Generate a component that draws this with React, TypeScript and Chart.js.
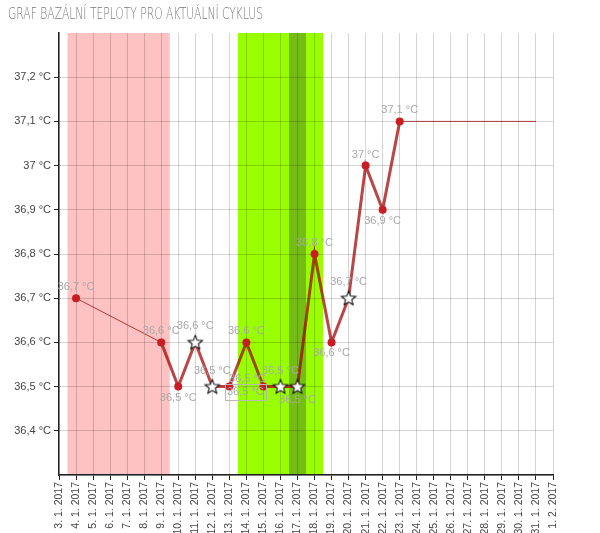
import React, { useEffect, useRef } from 'react';
import { Chart, registerables } from 'chart.js';

Chart.register(...registerables);

const chartTitle = 'GRAF BAZÁLNÍ TEPLOTY PRO AKTUÁLNÍ CYKLUS';

const dayLabels = [
  '3. 1. 2017', '4. 1. 2017', '5. 1. 2017', '6. 1. 2017', '7. 1. 2017', '8. 1. 2017',
  '9. 1. 2017', '10. 1. 2017', '11. 1. 2017', '12. 1. 2017', '13. 1. 2017', '14. 1. 2017',
  '15. 1. 2017', '16. 1. 2017', '17. 1. 2017', '18. 1. 2017', '19. 1. 2017', '20. 1. 2017',
  '21. 1. 2017', '22. 1. 2017', '23. 1. 2017', '24. 1. 2017', '25. 1. 2017', '26. 1. 2017',
  '27. 1. 2017', '28. 1. 2017', '29. 1. 2017', '30. 1. 2017', '31. 1. 2017', '1. 2. 2017',
];

const measuredDays = [
  '4. 1. 2017', '9. 1. 2017', '10. 1. 2017', '11. 1. 2017', '12. 1. 2017', '13. 1. 2017',
  '14. 1. 2017', '15. 1. 2017', '16. 1. 2017', '17. 1. 2017', '18. 1. 2017', '19. 1. 2017',
  '20. 1. 2017', '21. 1. 2017', '22. 1. 2017', '23. 1. 2017',
];
const measuredTemps = [36.7, 36.6, 36.5, 36.6, 36.5, 36.5, 36.6, 36.5, 36.5, 36.5, 36.8, 36.6, 36.7, 37.0, 36.9, 37.1];
const markerKinds = ['dot', 'dot', 'dot', 'star', 'star', 'dot', 'dot', 'dot', 'star', 'star', 'dot', 'dot', 'star', 'dot', 'dot', 'dot'];

const forecastDays = ['23. 1. 2017', '31. 1. 2017'];
const forecastTemps = [37.1, 37.1];

const menstruationDays = ['4. 1. 2017', '9. 1. 2017'];
const fertileDays = ['14. 1. 2017', '18. 1. 2017'];
const ovulationDays = ['17. 1. 2017', '17. 1. 2017'];

const yMin = 36.3;
const yMax = 37.3;
const yStep = 0.1;

// label placement (style): side, horizontal shift, vertical shift, boxed
const labelStyle: [string, number, number, boolean][] = [
  ['up', 0, 0, false], ['up', 0, 0, false], ['down', 0, 0, false], ['up', 0, -4, false],
  ['up', 0, -4, false], ['down', 16, -6, true], ['up', 0, 0, false], ['up', -16, 3, false],
  ['up', 0, -4, false], ['down', 0, 1, false], ['up', 0, 0, false], ['down', 0, 0, false],
  ['up', 0, -4, false], ['up', 0, 0, false], ['down', 0, 0, false], ['up', 0, 0, false],
];

const fmtTemp = (v: number) => String(Number(v.toFixed(1))).replace('.', ',') + ' °C';

function makeStar(): HTMLCanvasElement {
  const c = document.createElement('canvas');
  c.width = 18;
  c.height = 18;
  const g = c.getContext('2d')!;
  const cx = 9, cy = 9.5, ro = 7.5, ri = 3.3;
  g.beginPath();
  for (let i = 0; i < 10; i++) {
    const r = i % 2 === 0 ? ro : ri;
    const a = -Math.PI / 2 + (i * Math.PI) / 5;
    const px = cx + r * Math.cos(a);
    const py = cy + r * Math.sin(a);
    if (i === 0) g.moveTo(px, py); else g.lineTo(px, py);
  }
  g.closePath();
  g.fillStyle = '#ffffff';
  g.fill();
  g.lineWidth = 1.1;
  g.strokeStyle = '#111111';
  g.stroke();
  return c;
}

const bandsPlugin = {
  id: 'bands',
  beforeDraw(chart: any) {
    const { ctx, chartArea } = chart;
    const x = chart.scales.x;
    const half = (x.getPixelForValue(1) - x.getPixelForValue(0)) / 2;
    const band = (range: string[], color: string) => {
      const i0 = dayLabels.indexOf(range[0]);
      const i1 = dayLabels.indexOf(range[1]);
      const x0 = x.getPixelForValue(i0) - half;
      const x1 = x.getPixelForValue(i1) + half;
      ctx.save();
      ctx.fillStyle = color;
      ctx.fillRect(x0, chartArea.top, x1 - x0, chartArea.bottom - chartArea.top);
      ctx.restore();
    };
    band(menstruationDays, 'rgb(255,194,194)');
    band(fertileDays, 'rgb(153,255,0)');
    band(ovulationDays, 'rgb(118,188,22)');

    // title
    ctx.save();
    ctx.font = '200 15px "DejaVu Sans", "Liberation Sans Narrow", sans-serif';
    ctx.fillStyle = 'rgb(120,120,120)';
    ctx.textBaseline = 'alphabetic';
    const w = ctx.measureText(chartTitle).width;
    const target = 255;
    ctx.translate(8, 18.5);
    ctx.scale(target / w, 1);
    ctx.fillText(chartTitle, 0, 0);
    ctx.restore();
  },
};

const labelsPlugin = {
  id: 'pointLabels',
  afterDatasetsDraw(chart: any) {
    const { ctx } = chart;
    const meta = chart.getDatasetMeta(0);
    ctx.save();
    ctx.font = '11px "Liberation Sans", Arial, sans-serif';
    ctx.fillStyle = 'rgb(168,168,168)';
    ctx.textAlign = 'center';
    ctx.textBaseline = 'middle';
    meta.data.forEach((pt: any, i: number) => {
      const [side, dx, dy, boxed] = labelStyle[i];
      const star = markerKinds[i] === 'star';
      const off = side === 'up' ? -(star ? 12 : 11) : (star ? 12 : 11);
      const tx = pt.x + dx;
      const ty = pt.y + off + dy;
      const text = fmtTemp(measuredTemps[i]);
      ctx.fillText(text, tx, ty);
      if (boxed) {
        const w = ctx.measureText(text).width;
        ctx.strokeStyle = 'rgb(185,185,185)';
        ctx.lineWidth = 1;
        ctx.strokeRect(Math.round(tx - w / 2 - 2) + 0.5, Math.round(ty - 8) + 0.5, Math.round(w + 4), 16);
      }
    });
    ctx.restore();
  },
};

export default function App() {
  const ref = useRef<HTMLCanvasElement>(null);

  useEffect(() => {
    if (!ref.current) return;
    const star = makeStar();
    const chart = new Chart(ref.current, {
      type: 'line',
      data: {
        labels: dayLabels,
        datasets: [
          {
            data: measuredDays.map((d, i) => ({ x: d, y: measuredTemps[i] })),
            borderColor: 'rgba(160,0,0,0.72)',
            borderWidth: 3,
            segment: {
              borderWidth: (c: any) => (c.p1.parsed.x - c.p0.parsed.x > 1 ? 1 : 3),
            },
            pointStyle: markerKinds.map((k) => (k === 'star' ? star : 'circle')) as any,
            pointRadius: markerKinds.map((k) => (k === 'star' ? 7 : 4)),
            pointBackgroundColor: 'rgb(200,30,35)',
            pointBorderColor: 'rgb(200,30,35)',
            pointBorderWidth: 0,
            tension: 0,
            spanGaps: true,
            order: 1,
          },
          {
            data: forecastDays.map((d, i) => ({ x: d, y: forecastTemps[i] })),
            borderColor: 'rgba(160,0,0,0.72)',
            borderWidth: 1,
            pointRadius: 0,
            tension: 0,
            order: 2,
          },
        ],
      },
      options: {
        responsive: false,
        animation: false,
        layout: { padding: { top: 33, right: 47, left: 0, bottom: 0 } },
        plugins: {
          legend: { display: false },
          tooltip: { enabled: false },
          title: { display: false },
        },
        scales: {
          x: {
            type: 'category',
            offset: false,
            afterFit: (s: any) => { s.height = 58; },
            grid: {
              offset: false,
              color: 'rgba(0,0,0,0.17)',
              tickColor: '#222',
              tickLength: 5,
              lineWidth: 1,
            },
            border: { color: '#222', width: 1.5 },
            ticks: {
              autoSkip: false,
              minRotation: 90,
              maxRotation: 90,
              padding: 2,
              color: '#444',
              font: { family: '"Liberation Sans", Arial, sans-serif', size: 10.5 },
            },
          },
          y: {
            min: yMin,
            max: yMax,
            afterFit: (s: any) => { s.width = 59; },
            grid: {
              color: (c: any) => (c.tick && c.tick.value > yMax - yStep / 2 ? 'rgba(0,0,0,0)' : 'rgba(0,0,0,0.17)'),
              tickColor: (c: any) => (c.tick && (c.tick.value > yMax - yStep / 2 || c.tick.value < yMin + yStep / 2) ? 'rgba(0,0,0,0)' : '#222'),
              tickLength: 5,
              lineWidth: 1,
            },
            border: { color: '#222', width: 1.5 },
            ticks: {
              stepSize: yStep,
              padding: 3,
              color: '#444',
              font: { family: '"Liberation Sans", Arial, sans-serif', size: 11 },
              callback: (v: any) => {
                const n = Number(v);
                if (n < yMin + yStep / 2 || n > yMax - yStep / 2) return '';
                return fmtTemp(n);
              },
            },
          },
        },
      },
      plugins: [bandsPlugin, labelsPlugin],
    } as any);
    return () => chart.destroy();
  }, []);

  return (
    <div style={{ position: 'absolute', left: 0, top: 0, width: 600, height: 533, background: '#fff' }}>
      <canvas ref={ref} width={600} height={533} style={{ width: 600, height: 533, display: 'block' }} />
    </div>
  );
}
